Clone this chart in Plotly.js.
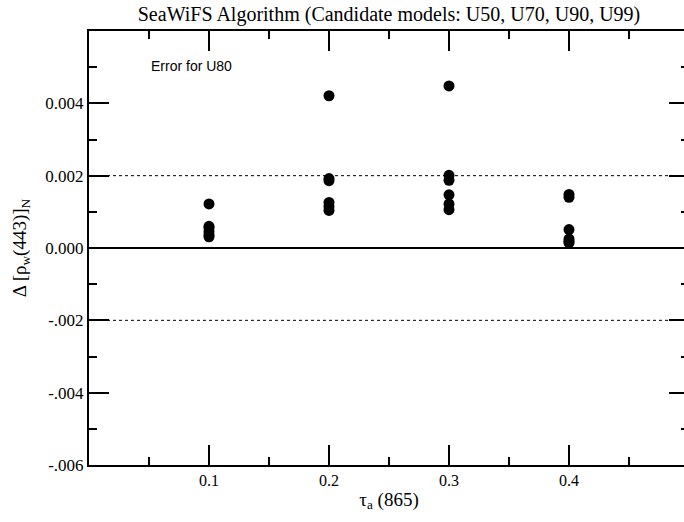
<!DOCTYPE html>
<html>
<head>
<meta charset="utf-8">
<script src="https://cdn.plot.ly/plotly-3.0.1.min.js"></script>
<style>
  html, body { margin: 0; padding: 0; overflow: hidden; background: #fff; width: 684px; height: 522px; }
  #chart { width: 692px; height: 522px; }
</style>
</head>
<body>
<div id="chart"></div>
<script>
// ---- data ----
const tauValues = [0.1, 0.2, 0.3, 0.4];
const errAt01 = [0.00122, 0.00060, 0.00055, 0.00045, 0.00036, 0.00031];
const errAt02 = [0.00421, 0.00192, 0.00186, 0.00126, 0.00115, 0.00104];
const errAt03 = [0.00448, 0.00201, 0.00187, 0.00147, 0.00122, 0.00106];
const errAt04 = [0.00148, 0.00140, 0.00051, 0.00025, 0.00018, 0.00014];
const refLines = [-0.002, 0.002];
const xTickVals = [0.1, 0.2, 0.3, 0.4];
const xTickText = ["0.1", "0.2", "0.3", "0.4"];
const yTickVals = [-0.006, -0.004, -0.002, 0, 0.002, 0.004];
const yTickText = ["-.006", "-.004", "-.002", "0.000", "0.002", "0.004"];

const groups = [errAt01, errAt02, errAt03, errAt04];
const xs = [], ys = [];
groups.forEach((g, i) => g.forEach(v => { xs.push(tauValues[i]); ys.push(v); }));

const serif = "Liberation Serif, Times New Roman, serif";

const trace = {
  type: "scatter", mode: "markers",
  x: xs, y: ys,
  marker: { color: "black", size: 11, symbol: "circle" },
  hoverinfo: "x+y", showlegend: false
};

const shapes = refLines.map(v => ({
  type: "line", xref: "paper", x0: 0, x1: 1, yref: "y", y0: v, y1: v,
  line: { color: "black", width: 1, dash: "dot" }, layer: "below"
}));

const axisCommon = {
  showgrid: false, showline: true, linecolor: "black", linewidth: 2,
  mirror: "allticks", ticks: "inside", tickcolor: "black", tickwidth: 2, ticklen: 20
};

const layout = {
  width: 692, height: 522,
  margin: { l: 89, r: 3, t: 31, b: 57 },
  paper_bgcolor: "white", plot_bgcolor: "white",
  title: {
    text: "SeaWiFS Algorithm (Candidate models: U50, U70, U90, U99)",
    font: { family: serif, size: 20, color: "black" },
    x: 0.5, xref: "paper", xanchor: "center", y: 0.973, yanchor: "middle"
  },
  xaxis: Object.assign({}, axisCommon, {
    range: [0, 0.5], tickmode: "array", tickvals: xTickVals, ticktext: xTickText,
    tickfont: { family: serif, size: 16, color: "black" },
    zeroline: false,
    minor: { tickmode: "linear", tick0: 0, dtick: 0.05, ticks: "inside", ticklen: 8, tickwidth: 2, tickcolor: "black", showgrid: false },
    title: { text: "τ<sub>a</sub> (865)", font: { family: serif, size: 19, color: "black" }, standoff: 4 }
  }),
  yaxis: Object.assign({}, axisCommon, {
    range: [-0.006, 0.006], tickmode: "array", tickvals: yTickVals, ticktext: yTickText,
    tickfont: { family: serif, size: 17, color: "black" },
    zeroline: true, zerolinecolor: "black", zerolinewidth: 2,
    minor: { tickmode: "linear", tick0: 0, dtick: 0.001, ticks: "inside", ticklen: 8, tickwidth: 2, tickcolor: "black", showgrid: false },
    title: { text: "Δ [ρ<sub>w</sub>(443)]<sub>N</sub>", font: { family: serif, size: 19, color: "black" }, standoff: 14 }
  }),
  shapes: shapes,
  annotations: [{
    text: "Error for U80", xref: "paper", yref: "paper", x: 0.1, y: 0.92,
    xanchor: "left", yanchor: "middle", showarrow: false,
    font: { family: "Liberation Sans, Arial, sans-serif", size: 14, color: "black" }
  }]
};

Plotly.newPlot("chart", [trace], layout, { displayModeBar: false, staticPlot: true });
</script>
</body>
</html>
